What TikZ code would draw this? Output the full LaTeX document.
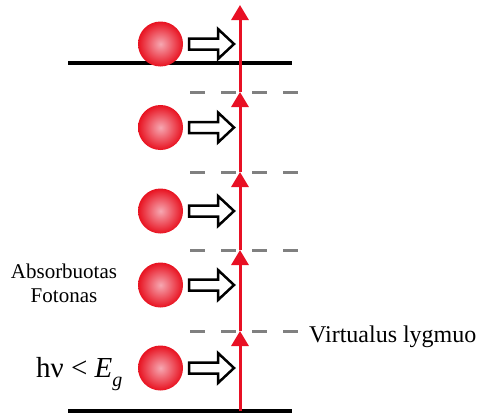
\documentclass[tikz,border=0pt]{standalone}
\usepackage{fontspec}
\setmainfont{Liberation Serif}
\usetikzlibrary{arrows.meta}
\definecolor{ballin}{RGB}{246,168,178}
\definecolor{ballout}{RGB}{232,18,32}
\definecolor{laser}{RGB}{232,16,36}
\definecolor{dashgray}{RGB}{128,128,128}
\tikzset{
  levelline/.style={line width=4pt, black},
  virtline/.style={line width=3pt, dashgray, dash pattern=on 15pt off 16pt},
  laserseg/.style={line width=3pt, laser, -{Triangle[width=17pt,length=15pt]}},
  hollowarrow/.style={line width=2.5pt, black, fill=white, line join=miter},
  photon/.style={inner color=ballin, outer color=ballout},
  lbl/.style={inner sep=0pt, font=\rmfamily\fontsize{21}{25}\selectfont},
}
\begin{document}
\begin{tikzpicture}[x=1pt,y=-1pt]
\useasboundingbox (0,0) rectangle (479,415);
% energy bands
\draw[levelline] (68,63) coordinate (cbL) -- (292,63) coordinate (cbR);
\draw[levelline] (68,411) coordinate (vbL) -- (292,411) coordinate (vbR);
% virtual levels
\foreach \y/\n in {92/1,172/2,250/3,331/4}{
  \draw[virtline] (190,\y) coordinate (vl\n) -- (298,\y) coordinate (vr\n);
  \coordinate (v\n) at (240,\y);
}
% red transition line
\coordinate (lb) at (240,411);
\coordinate (lt) at (240,5);
\draw[laserseg] (lb) -- (v4);
\draw[laserseg] (v4) -- (v3);
\draw[laserseg] (v3) -- (v2);
\draw[laserseg] (v2) -- (v1);
\draw[laserseg] (v1) -- (lt);
% photons and hollow arrows
\foreach \c in {44,127.5,211,285,368}{
  \shade[photon] (160.5,\c) circle (22.5pt);
  \draw[hollowarrow] (189,\c-5.5) -- (218,\c-5.5) -- (218,\c-15) -- (234,\c)
     -- (218,\c+15) -- (218,\c+5.5) -- (189,\c+5.5) -- cycle;
}
% labels
\node[lbl, anchor=base] (abs) at (64,278) {Absorbuotas};
\node[lbl, anchor=base] (fot) at (64,302) {Fotonas};
\node[inner sep=0pt, anchor=base west, font=\rmfamily\fontsize{24}{28}\selectfont] (virt) at (309,342) {Virtualus lygmuo};
\node[inner sep=0pt, anchor=base west, font=\rmfamily\fontsize{29}{33}\selectfont] (hv) at (36,377)
  {hν < \textit{E}\raisebox{-0.34em}{\fontsize{20}{22}\selectfont\textit{g}}};
\end{tikzpicture}
\end{document}
